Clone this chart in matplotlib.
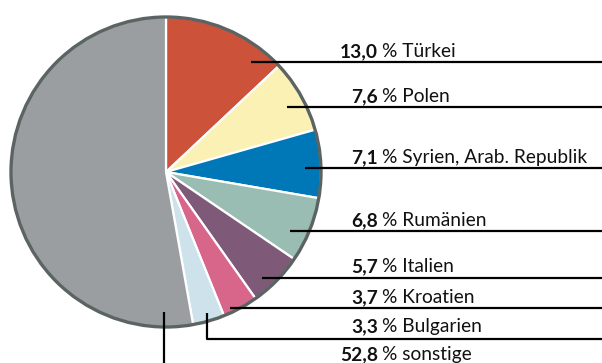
import matplotlib.pyplot as plt
from matplotlib.patches import Circle

# shares in percent, clockwise from 12 o'clock
countries = ["Türkei", "Polen", "Syrien, Arab. Republik", "Rumänien",
             "Italien", "Kroatien", "Bulgarien", "sonstige"]
shares = [13.0, 7.6, 7.1, 6.8, 5.7, 3.7, 3.3, 52.8]
colors = ["#cc5239", "#fbf1b4", "#0077b7", "#9abdb3",
          "#7e5a78", "#d8668a", "#cde2ea", "#9a9ea0"]

W, H = 602, 363
CX, CY, R = 166, 172, 155

# label layout in pixels from the top: (text baseline, line y, line start x)
label_layout = [
    (57, 62, 251),
    (102, 107, 287),
    (163, 168, 305),
    (226, 231, 290),
    (272, 278, 262),
    (303, 308, 230),
    (332, 339, 207),
    (360, None, 164),
]

plt.rcParams["font.family"] = ["Lato", "DejaVu Sans"]
FS = 13.8

fig = plt.figure(figsize=(W / 100, H / 100), dpi=100)
ax = fig.add_axes([0, 0, 1, 1])

ax.pie(shares, colors=colors, startangle=90, counterclock=False,
       center=(CX, H - CY), radius=R,
       wedgeprops=dict(edgecolor="white", linewidth=1.6))
ax.add_patch(Circle((CX, H - CY), R, fill=False, edgecolor="#5b6462",
                    linewidth=2.4, zorder=5))

for name, share, (ty, ly, lx) in zip(countries, shares, label_layout):
    value = f"{share:.1f}".replace(".", ",")
    ax.text(378, H - ty, value, ha="right", va="baseline",
            fontsize=FS, fontweight="bold", color="#111111")
    ax.text(382, H - ty, f"% {name}", ha="left", va="baseline",
            fontsize=FS, color="#111111")
    if ly is None:
        # sonstige: straight down out of the wedge
        ax.plot([lx, lx], [H - 312, 0], color="black", lw=1.6, zorder=6,
                solid_capstyle="butt")
    elif name == "Bulgarien":
        ax.plot([lx, lx, W], [H - 313, H - ly, H - ly], color="black",
                lw=1.6, zorder=6, solid_capstyle="butt")
    else:
        ax.plot([lx, W], [H - ly, H - ly], color="black", lw=1.6, zorder=6,
                solid_capstyle="butt")

ax.set_xlim(0, W)
ax.set_ylim(0, H)
ax.set_aspect("auto")
ax.axis("off")

fig.savefig("out.png", dpi=100)
